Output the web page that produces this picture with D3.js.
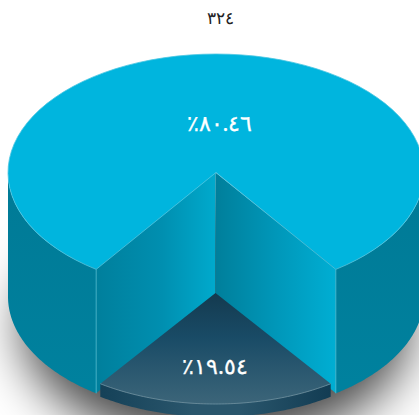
<!DOCTYPE html>
<html><head><meta charset="utf-8">
<script src="https://cdn.jsdelivr.net/npm/d3@7/dist/d3.min.js"></script>
<style>html,body{margin:0;padding:0;background:#fff;overflow:hidden}svg{display:block}</style>
</head><body><div id="chart"></div>
<script>
const titleLabel = "٣٢٤";
const sliceValues = [80.46, 19.54];
const sliceLabels = ["٪٨٠.٤٦", "٪١٩.٥٤"];

const W = 419, H = 415;
const svg = d3.select("#chart").append("svg").attr("width", W).attr("height", H);
const defs = svg.append("defs");

function hGrad(id, stops, x1, x2) {
  const g = defs.append("linearGradient").attr("id", id).attr("gradientUnits", "userSpaceOnUse")
    .attr("x1", x1).attr("x2", x2).attr("y1", 0).attr("y2", 0);
  stops.forEach(s => g.append("stop").attr("offset", s[0]).attr("stop-color", s[1]));
}
function vGrad(id, stops, y1, y2) {
  const g = defs.append("linearGradient").attr("id", id).attr("gradientUnits", "userSpaceOnUse")
    .attr("x1", 0).attr("x2", 0).attr("y1", y1).attr("y2", y2);
  stops.forEach(s => g.append("stop").attr("offset", s[0]).attr("stop-color", s[1]));
}

const main = {cx: 216, cy: 172.5, rx: 208, ry: 118.5, depth: 124};
const small = {cx: 215.5, cy: 293, rx: 200, ry: 111, depth: 13};

const arcs = d3.pie().sort(null)
  .startAngle(Math.PI + sliceValues[1] / 100 * Math.PI)
  .endAngle(3 * Math.PI + sliceValues[1] / 100 * Math.PI)(sliceValues);
const big = arcs[0], sm = arcs[1];

const pt = (e, a, dy = 0) => [e.cx + e.rx * Math.sin(a), e.cy - e.ry * Math.cos(a) + dy];
const samples = (a0, a1, e, dy = 0) => {
  const s = d3.scaleLinear().domain([0, 80]).range([a0, a1]);
  return d3.range(81).map(i => pt(e, s(i), dy));
};
const line = d3.line();
const sector = (e, a0, a1) => line([[e.cx, e.cy], ...samples(a0, a1, e)]) + "Z";
const wall = (e, a0, a1) => line([...samples(a0, a1, e), ...samples(a1, a0, e, e.depth)]) + "Z";

const cL = pt(main, big.startAngle), cR = pt(main, big.endAngle);

hGrad("innerL", [[0, "#007f9c"], [0.55, "#008fb0"], [1, "#00aacd"]], cL[0], main.cx);
hGrad("innerR", [[0, "#007f9b"], [0.5, "#0097b9"], [1, "#00aed3"]], main.cx, cR[0]);
vGrad("outer", [[0, "#007a96"], [1, "#00829f"]], main.cy, main.cy + main.ry + main.depth);
vGrad("smallTop", [[0, "#143a4f"], [0.4, "#194b66"], [1, "#3c6579"]], small.cy, small.cy + small.ry);
hGrad("smallSide", [[0, "#154158"], [0.4, "#2a566c"], [0.6, "#2a566c"], [1, "#123c53"]], pt(small, sm.endAngle)[0], pt(small, sm.startAngle)[0]);

const blur = defs.append("filter").attr("id", "blur").attr("x", "-40%").attr("y", "-40%").attr("width", "180%").attr("height", "180%");
blur.append("feGaussianBlur").attr("stdDeviation", 25);

// shadow under the pie
svg.append("ellipse").attr("cx", main.cx).attr("cy", main.cy + main.depth + 30)
  .attr("rx", main.rx - 14).attr("ry", main.ry)
  .attr("fill", "#000").attr("fill-opacity", 0.72).attr("filter", "url(#blur)");

// outer walls
svg.append("path").attr("d", wall(main, 1.5 * Math.PI, big.startAngle)).attr("fill", "url(#outer)");
svg.append("path").attr("d", wall(main, big.endAngle - 2 * Math.PI, Math.PI / 2)).attr("fill", "url(#outer)");

// inner walls
const innerWall = (corner, fill) => svg.append("path")
  .attr("d", line([[main.cx - 0.5, main.cy], corner, [corner[0], corner[1] + main.depth], [main.cx - 0.5, main.cy + main.depth - 3]]) + "Z")
  .attr("fill", fill);
innerWall(cL, "url(#innerL)");
innerWall(cR, "url(#innerR)");

// light edges of the walls
[cL, cR].forEach(c => svg.append("line").attr("x1", c[0]).attr("y1", c[1]).attr("x2", c[0]).attr("y2", c[1] + main.depth)
  .attr("stroke", "#4fc0d8").attr("stroke-width", 1).attr("stroke-opacity", .8));

// top surface
svg.append("path").attr("d", sector(main, big.startAngle, big.endAngle))
  .attr("fill", "#00b5de").attr("stroke", "#4cc6e2").attr("stroke-width", 0.8);

// small slice
svg.append("path").attr("d", wall(small, sm.startAngle, sm.endAngle)).attr("fill", "url(#smallSide)");
svg.append("path").attr("d", sector(small, sm.startAngle, sm.endAngle)).attr("fill", "url(#smallTop)");
svg.append("path").attr("d", line(samples(sm.startAngle, sm.endAngle, small)))
  .attr("fill", "none").attr("stroke", "#6f93a3").attr("stroke-width", 0.8);

// text
const font = "'Noto Sans', sans-serif";
svg.append("text").attr("x", 220.5).attr("y", 24).attr("text-anchor", "middle")
  .attr("font-family", font).attr("font-size", 17).attr("font-weight", 400).attr("fill", "#222")
  .text(titleLabel);
const labelPos = [[219.5, 131], [215, 374]];
sliceLabels.forEach((t, i) => svg.append("text")
  .attr("x", labelPos[i][0]).attr("y", labelPos[i][1]).attr("text-anchor", "middle")
  .attr("direction", "rtl").style("unicode-bidi", "plaintext")
  .attr("font-family", font).attr("font-size", 22).attr("font-weight", 400).attr("fill", "#fff")
  .attr("stroke", "#fff").attr("stroke-width", 0.3)
  .text(t));
</script></body></html>
